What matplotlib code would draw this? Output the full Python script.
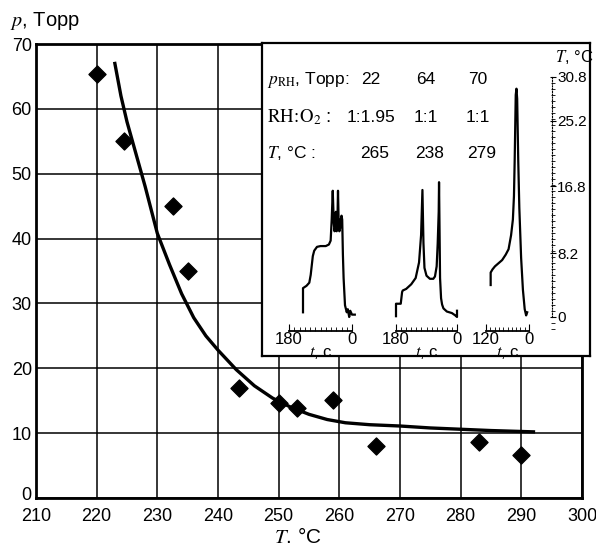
import numpy as np
import matplotlib
matplotlib.use("Agg")
import matplotlib.pyplot as plt
import matplotlib.transforms as mtransforms
from matplotlib.ticker import MultipleLocator, FixedLocator

plt.rcParams['font.family'] = ['Liberation Sans', 'DejaVu Sans']
plt.rcParams['mathtext.fontset'] = 'stix'

# main data: experimental points and fitted curve
pts_T = [220, 224.5, 232.5, 235, 243.5, 250, 253, 259, 266, 283, 290]
pts_p = [65.3, 55, 45, 35, 16.9, 14.7, 13.8, 15.1, 8.0, 8.7, 6.7]

curve_T = [223, 224, 225, 226.5, 228, 230, 232, 234, 236, 238, 240, 243, 246,
           249, 252, 255, 258, 261, 265, 270, 275, 280, 285, 292]
curve_p = [67, 62, 58, 53, 48, 40.8, 36, 31.5, 27.8, 25, 22.8, 19.8, 17.3,
           15.4, 14.0, 12.9, 12.1, 11.6, 11.3, 11.1, 10.8, 10.6, 10.4, 10.2]

# inset: three temperature traces (t in s, dT in degC)
tr1_t = [140, 140, 130, 122, 118, 112, 108, 100, 90, 75, 66, 61, 58, 55, 52,
         50, 48, 46, 44, 42, 40, 38, 36, 34, 32, 30, 28, 26, 24, 20, 15, 12, 8, 5, 0, -8]
tr1_T = [0.6, 3.7, 4.0, 4.4, 5.4, 7.8, 8.5, 9.0, 9.1, 9.1, 9.3, 9.8, 12.5, 16.2, 12.0,
         11.0, 11.5, 13.5, 11.0, 11.5, 16.2, 12.0, 11.0, 12.5, 11.5, 13.0, 12.5, 8.0,
         5.0, 1.5, 0.6, 1.0, 0.0, 0.8, 0.3, 0.3]
tr2_t = [180, 180, 166, 162, 160, 150, 135, 122, 112, 106, 102, 99, 96, 90, 80,
         70, 65, 60, 57, 54, 53, 50, 47, 44, 40, 30, 15, 5, 0, 0]
tr2_T = [0.1, 1.7, 1.7, 3.2, 3.4, 3.6, 4.2, 5.0, 7.0, 10.5, 16.3, 9.5, 6.3, 5.3, 4.9,
         4.9, 5.2, 6.5, 9.4, 13.5, 17.3, 5.0, 2.4, 1.6, 1.1, 0.7, 0.5, 0.2, 0.0, 0.8]
tr3_t = [107, 107, 102, 95, 85, 75, 65, 57, 50, 45, 42, 40, 37, 35, 33, 30, 27,
         22, 17, 12, 8, 5]
tr3_T = [4.1, 5.7, 6.1, 6.5, 6.9, 7.3, 8.0, 8.7, 10.5, 12.5, 15.5, 20.0, 28.5,
         29.3, 28.0, 20.0, 14.0, 7.6, 3.5, 1.0, 0.2, 0.6]

traces = [(tr1_t, tr1_T, 180), (tr2_t, tr2_T, 180), (tr3_t, tr3_T, 120)]
p_rh = ["22", "64", "70"]
ratio = ["1:1.95", "1:1", "1:1"]
T_run = ["265", "238", "279"]
scale_ticks = [0, 8.2, 16.8, 25.2, 30.8]

W, H = 596, 549


def px_rect(x0, y0, x1, y1):
    return [x0 / W, 1 - y1 / H, (x1 - x0) / W, (y1 - y0) / H]


fig = plt.figure(figsize=(W / 100, H / 100), dpi=100)

ax = fig.add_axes(px_rect(36, 44, 582, 498))
ax.plot(curve_T, curve_p, color='black', lw=2.4, zorder=3)
ax.scatter(pts_T, pts_p, marker='D', s=75, color='black', zorder=4)
ax.set_xlim(210, 300)
ax.set_ylim(0, 70)
ax.set_xticks(np.arange(210, 301, 10))
ax.set_yticks(np.arange(0, 71, 10))
ax.grid(True, color='black', lw=1.1)
ax.tick_params(length=0, labelsize=13)
ax.tick_params(axis='x', pad=7)
ax.tick_params(axis='y', pad=3)
for s in ax.spines.values():
    s.set_linewidth(2)
# lift the "0" label a little, as in the original
zero_lab = ax.get_yticklabels()[0]
zero_lab.set_transform(zero_lab.get_transform() +
                       mtransforms.ScaledTranslation(0, 4 / 100, fig.dpi_scale_trans))
fig.text(10 / W, 1 - 21 / H, r'$p$, Topp', fontsize=14.5, va='center', ha='left')
fig.text(298 / W, 1 - 537 / H, r'$T$. °C', fontsize=15, va='center', ha='center')

# inset frame
box = fig.add_axes(px_rect(262, 43, 590, 356))
box.set_xticks([])
box.set_yticks([])
box.set_zorder(5)
for s in box.spines.values():
    s.set_linewidth(1.6)

ylo, yhi = -1.8, 30.8
top_px, bot_px = 77, 331

# rows of text
lx = 267
cols = [371, 426, 478]
fs = 12.5
fig.text(lx / W, 1 - 80 / H, r'$p_{\rm RH}$, Topp:', fontsize=fs, va='center', zorder=10)
fig.text(lx / W, 1 - 117 / H, r'$\rm RH\!:\!O_2$ :', fontsize=fs + 1, va='center', zorder=10)
fig.text(lx / W, 1 - 153 / H, r'$T$, °C :', fontsize=fs, va='center', zorder=10)
for i in range(3):
    fig.text(cols[i] / W, 1 - 80 / H, p_rh[i], fontsize=fs, va='center', ha='center', zorder=10)
    fig.text(cols[i] / W, 1 - 117 / H, ratio[i], fontsize=fs, va='center', ha='center', zorder=10)
    fig.text((cols[i] + 4) / W, 1 - 153 / H, T_run[i], fontsize=fs, va='center', ha='center', zorder=10)

# temperature scale
sc = fig.add_axes(px_rect(552, top_px, 553, bot_px))
sc.set_zorder(6)
sc.patch.set_alpha(0)
sc.set_ylim(ylo, yhi)
sc.set_xticks([])
for k in ['top', 'right', 'bottom']:
    sc.spines[k].set_visible(False)
sc.spines['left'].set_linestyle((0, (1, 1.5)))
sc.spines['left'].set_bounds(0, 30.8)
sc.yaxis.set_major_locator(FixedLocator(scale_ticks))
sc.yaxis.set_minor_locator(MultipleLocator(0.77))
sc.yaxis.tick_right()
sc.tick_params(axis='y', which='major', direction='inout', length=5, labelsize=11, pad=0.5)
sc.tick_params(axis='y', which='minor', direction='inout', length=2.5)
sc.set_yticklabels(['0', '8.2', '16.8', '25.2', '30.8'])
fig.text(574 / W, 1 - 57 / H, r'$T$, °C', fontsize=12, va='center', ha='center', zorder=10)

# traces
xr = [(289, 352), (396, 457), (486, 529)]
for (tt, TT, tmax), (x0, x1) in zip(traces, xr):
    a = fig.add_axes(px_rect(x0, top_px, x1, bot_px))
    a.set_zorder(6)
    a.patch.set_alpha(0)
    a.plot(tt, TT, color='black', lw=1.6, clip_on=False)
    a.set_xlim(tmax, 0)
    a.set_ylim(ylo, yhi)
    a.set_yticks([])
    for k in ['top', 'right', 'left']:
        a.spines[k].set_visible(False)
    a.spines['bottom'].set_linewidth(1.3)
    a.set_xticks([tmax, 0])
    a.xaxis.set_minor_locator(MultipleLocator(15 if tmax == 180 else 12))
    a.tick_params(axis='x', which='major', direction='in', length=5, labelsize=12, pad=1)
    a.tick_params(axis='x', which='minor', direction='in', length=3)
    a.set_xlabel(r'$t$, c', fontsize=12, labelpad=-2)

fig.savefig('out.png', dpi=100)
